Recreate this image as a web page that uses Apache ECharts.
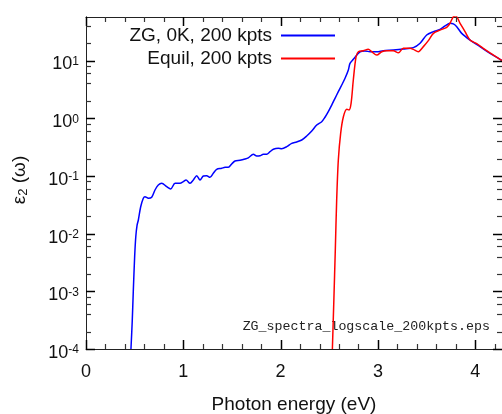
<!DOCTYPE html>
<html>
<head>
<meta charset="utf-8">
<script src="https://cdn.jsdelivr.net/npm/echarts@6/dist/echarts.min.js"></script>
<style>
  html, body { margin: 0; padding: 0; background: #fff; }
  #chart { width: 502px; height: 414px; }
</style>
</head>
<body>
<div id="chart"></div>
<script>
// ZG, 0K, 200 kpts (blue)
var energyZG = [0.462, 0.475, 0.486, 0.500, 0.512, 0.525, 0.538, 0.562, 0.589, 0.606, 0.641, 0.675,
  0.709, 0.743, 0.778, 0.829, 0.870, 0.915, 0.966, 1.000, 1.028, 1.069, 1.103, 1.138, 1.172, 1.206,
  1.240, 1.274, 1.308, 1.343, 1.394, 1.429, 1.463, 1.497, 1.531, 1.583, 1.634, 1.668, 1.720, 1.754,
  1.788, 1.823, 1.857, 1.891, 1.925, 1.977, 2.011, 2.063, 2.114, 2.165, 2.217, 2.268, 2.320, 2.371,
  2.422, 2.456, 2.490, 2.525, 2.559, 2.593, 2.628, 2.662, 2.696, 2.713, 2.747, 2.816, 2.867, 2.919,
  2.988, 3.055, 3.158, 3.261, 3.364, 3.433, 3.501, 3.570, 3.638, 3.690, 3.741, 3.775, 3.810, 3.861,
  3.947, 4.049, 4.152, 4.255, 4.275];
var epsZG = [0.0001, 0.0003, 0.001, 0.004, 0.009, 0.014, 0.0172, 0.0292, 0.041, 0.0437, 0.041, 0.0427,
  0.057, 0.0695, 0.0745, 0.065, 0.0593, 0.0745, 0.0745, 0.0794, 0.085, 0.0745, 0.085, 0.1007, 0.085, 0.0995,
  0.101, 0.0946, 0.111, 0.13, 0.1355, 0.141, 0.141, 0.161, 0.181, 0.186, 0.196, 0.206, 0.237, 0.221,
  0.224, 0.237, 0.237, 0.263, 0.289, 0.3, 0.296, 0.321, 0.367, 0.387, 0.419, 0.492, 0.6, 0.762,
  0.869, 1.04, 1.3, 1.69, 2.21, 2.88, 3.76, 4.92, 6.84, 8.9, 10.5, 14.1, 14.6, 14.2,
  14.2, 14.8, 15.2, 15.8, 16.7, 19.9, 27.7, 31.6, 34.7, 39.8, 44.2, 43, 38.5, 29.5,
  22.6, 17.4, 13.3, 10.5, 10];

// Equil, 200 kpts (red)
var energyEq = [2.532, 2.547, 2.562, 2.576, 2.593, 2.617, 2.645, 2.680, 2.703, 2.724, 2.747, 2.775,
  2.799, 2.850, 2.901, 2.936, 2.988, 3.039, 3.090, 3.158, 3.210, 3.261, 3.330, 3.364, 3.415, 3.467,
  3.518, 3.570, 3.638, 3.707, 3.741, 3.775, 3.800, 3.844, 3.895, 3.947, 4.015, 4.083, 4.152, 4.255, 4.275];
var epsEq = [0.0001, 0.0007, 0.0052, 0.038, 0.189, 0.547, 1.06, 1.43, 1.39, 1.81, 4.59, 11.6,
  14.2, 14.8, 15.6, 14.2, 12.4, 14.2, 14.8, 14.8, 13.6, 16.3, 16.3, 15.6, 14.2, 17.4,
  22.1, 29.5, 33.7, 37.6, 44.2, 57.5, 59, 44.2, 31.6, 22.6, 19.6, 16.3, 13.6, 10.5, 10];

var seriesNames = ['ZG, 0K, 200 kpts', 'Equil, 200 kpts'];
var xMajorTicks = [0, 1, 2, 3, 4];
var xMinorPerUnit = 5;
var yDecades = [-4, -3, -2, -1, 0, 1];
var yMinorFactors = [2, 4, 6, 8];
var fileLabel = 'ZG_spectra_logscale_200kpts.eps';

var X_MAX = 4.275, Y_MIN = 1e-4, Y_MAX = 56.75;
var FONT = '"Liberation Sans", Arial, sans-serif';
var GRID = { left: 86, right: 0, top: 17, bottom: 65 };

function zip(xs, ys) {
  return xs.map(function (x, i) { return [x, ys[i]]; });
}

// tick positions (axis values)
var xMinorTicks = [];
for (var i = 1; i / xMinorPerUnit < X_MAX; i++) {
  if (i % xMinorPerUnit !== 0) xMinorTicks.push(i / xMinorPerUnit);
}
var yMajorTicks = yDecades.map(function (d) { return Math.pow(10, d); });
var yMinorTicks = [];
yDecades.forEach(function (d) {
  yMinorFactors.forEach(function (f) {
    var v = f * Math.pow(10, d);
    if (v < Y_MAX) yMinorTicks.push(v);
  });
});

function xAxisDef(pos) {
  return {
    type: 'value', position: pos, min: 0, max: X_MAX, interval: 1,
    axisLine: { show: true, lineStyle: { color: '#222', width: 1 } },
    axisTick: { show: false },
    axisLabel: { show: pos === 'bottom', showMaxLabel: false, margin: 14,
      fontSize: 18, color: '#111', fontFamily: FONT },
    splitLine: { show: false }
  };
}

function yAxisDef(pos) {
  return {
    type: 'log', logBase: 10, position: pos, min: Y_MIN, max: Y_MAX,
    axisLine: { show: true, lineStyle: { color: '#222', width: 1 } },
    axisTick: { show: false },
    axisLabel: {
      show: pos === 'left', showMaxLabel: false, margin: 7,
      formatter: function (v) {
        return '{b|10}{s|' + Math.round(Math.log10(v)) + '}';
      },
      rich: {
        b: { fontSize: 18, color: '#111', fontFamily: FONT, padding: [8, 0, 0, 0] },
        s: { fontSize: 12, color: '#111', fontFamily: FONT, padding: [2, 0, 0, 0] }
      }
    },
    splitLine: { show: false }
  };
}

var xAxes = [xAxisDef('bottom'), xAxisDef('top')];
xAxes[0].name = 'Photon energy (eV)';
xAxes[0].nameLocation = 'middle';
xAxes[0].nameGap = 46;
xAxes[0].nameTextStyle = { fontSize: 19, color: '#111', fontFamily: FONT };

var yAxes = [yAxisDef('left'), yAxisDef('right')];
yAxes[0].name = '{a|ε}{s|2}{a| (ω)}';
yAxes[0].nameLocation = 'middle';
yAxes[0].nameRotate = 90;
yAxes[0].nameGap = 56;
yAxes[0].nameTextStyle = {
  padding: [0, 0, 0, 6],
  rich: {
    a: { fontSize: 19, color: '#111', fontFamily: FONT },
    s: { fontSize: 13, color: '#111', fontFamily: FONT, padding: [8, 0, 0, 0] }
  }
};

function legendDef(name, top) {
  return {
    data: [name], orient: 'vertical', align: 'right', right: 167, top: top, padding: 0,
    icon: 'rect', itemWidth: 54, itemHeight: 2, selectedMode: false,
    textStyle: { fontSize: 19, color: '#111', fontFamily: FONT, padding: [0, 4, 0, 0] }
  };
}

var chart = echarts.init(document.getElementById('chart'));
chart.setOption({
  animation: false,
  grid: { left: GRID.left, right: GRID.right, top: GRID.top, bottom: GRID.bottom,
    outerBoundsMode: 'none', containLabel: false },
  legend: [legendDef(seriesNames[0], 26), legendDef(seriesNames[1], 49)],
  xAxis: xAxes,
  yAxis: yAxes,
  series: [
    {
      name: seriesNames[0], type: 'line', data: zip(energyZG, epsZG),
      symbol: 'none', smooth: 0.3, clip: true,
      lineStyle: { color: '#0000ff', width: 1.5 }, itemStyle: { color: '#0000ff' }
    },
    {
      name: seriesNames[1], type: 'line', data: zip(energyEq, epsEq),
      symbol: 'none', smooth: 0.3, clip: true,
      lineStyle: { color: '#ff0000', width: 1.5 }, itemStyle: { color: '#ff0000' }
    }
  ]
});

// inward ticks on all four sides, placed through the axis scales
var W = 502, H = 414;
var gLeft = GRID.left, gRight = W - GRID.right, gTop = GRID.top, gBottom = H - GRID.bottom;
var marks = [];
function seg(x1, y1, x2, y2, color, width) {
  marks.push({ type: 'line', z: 100, zlevel: 1,
    shape: { x1: x1, y1: y1, x2: x2, y2: y2 },
    style: { stroke: color, lineWidth: width } });
}
function xTicks(values, len, color, width) {
  values.forEach(function (v) {
    var px = Math.round(chart.convertToPixel({ xAxisIndex: 0 }, v)) + 0.5;
    seg(px, gBottom, px, gBottom - len, color, width);
    seg(px, gTop, px, gTop + len, color, width);
  });
}
function yTicks(values, len, color, width) {
  values.forEach(function (v) {
    var py = Math.round(chart.convertToPixel({ yAxisIndex: 0 }, v)) + 0.5;
    seg(gLeft, py, gLeft + len, py, color, width);
    seg(gRight - len, py, gRight, py, color, width);
  });
}
xTicks(xMajorTicks, 9, '#000', 1.5);
xTicks(xMinorTicks, 5, '#333', 1.2);
yTicks(yMajorTicks, 9, '#000', 1.5);
yTicks(yMinorTicks, 5, '#333', 1.2);
marks.push({
  type: 'text', right: 12, top: 320,
  style: { text: fileLabel, font: '13.3px "Liberation Mono", monospace', fill: '#222' }
});
chart.setOption({ graphic: marks });
</script>
</body>
</html>
